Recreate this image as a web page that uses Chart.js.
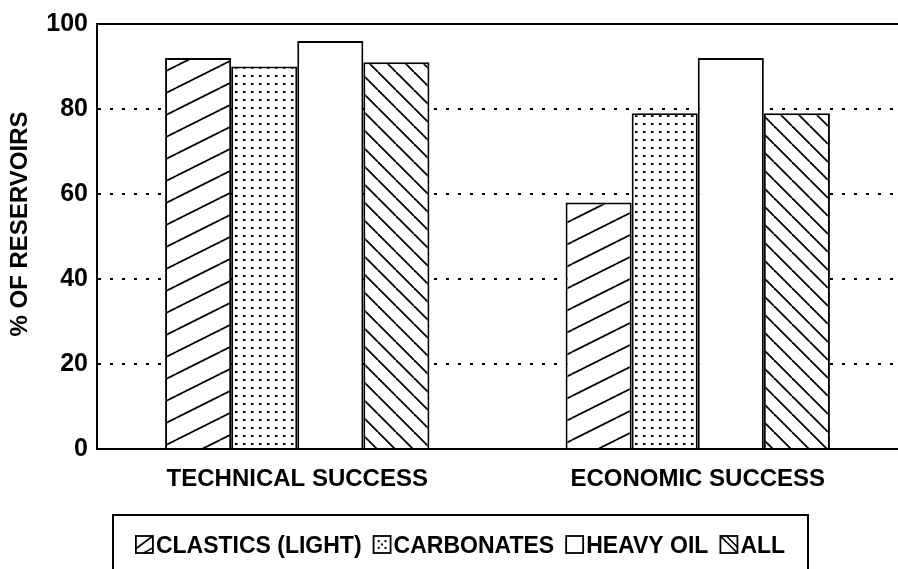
<!DOCTYPE html>
<html>
<head>
<meta charset="utf-8">
<script src="https://cdn.jsdelivr.net/npm/chart.js@4/dist/chart.umd.min.js"></script>
<style>
  html, body { margin: 0; padding: 0; background: #fff; }
  #wrap { width: 898px; height: 569px; position: relative; }
</style>
</head>
<body>
<div id="wrap"><canvas id="chart"></canvas></div>
<script>
// datos
const categories = ['TECHNICAL SUCCESS', 'ECONOMIC SUCCESS'];
const seriesNames = ['CLASTICS (LIGHT)', 'CARBONATES', 'HEAVY OIL', 'ALL'];
const clastics = [92, 58];
const carbonates = [90, 79];
const heavyOil = [96, 92];
const allRes = [91, 79];
const yTicks = [0, 20, 40, 60, 80, 100];
const yTitle = '% OF RESERVOIRS';

const FONT = '"Liberation Sans", Arial, sans-serif';

// patrones de relleno (tramas)
function makePattern(kind) {
    const c = document.createElement('canvas');
    const g = c.getContext('2d');
    if (kind === 'slash') {
        c.width = 44; c.height = 22;
        g.fillStyle = '#fff'; g.fillRect(0, 0, 44, 22);
        g.strokeStyle = '#000'; g.lineWidth = 1.8;
        [-22, 0, 22].forEach(o => {
            g.beginPath(); g.moveTo(0, 22 + o); g.lineTo(44, o); g.stroke();
        });
    } else if (kind === 'back') {
        c.width = 18; c.height = 18;
        g.fillStyle = '#fff'; g.fillRect(0, 0, 18, 18);
        g.strokeStyle = '#000'; g.lineWidth = 1.8;
        [-18, 0, 18].forEach(o => {
            g.beginPath(); g.moveTo(o, 0); g.lineTo(18 + o, 18); g.stroke();
        });
    } else if (kind === 'dots') {
        c.width = 8; c.height = 8;
        g.fillStyle = '#fff'; g.fillRect(0, 0, 8, 8);
        g.fillStyle = '#000'; g.fillRect(3, 3, 2.5, 2);
    } else {
        c.width = 4; c.height = 4;
        g.fillStyle = '#fff'; g.fillRect(0, 0, 4, 4);
    }
    return g.createPattern(c, 'repeat');
}

// muestra de leyenda: una sola diagonal como en el original
function drawSwatch(c, kind, x, y, s) {
    c.fillStyle = '#fff';
    c.fillRect(x, y, s, s);
    c.strokeStyle = '#000';
    c.lineWidth = 1.6;
    if (kind === 0) {
        c.beginPath(); c.moveTo(x, y + s * 0.75); c.lineTo(x + s, y); c.stroke();
        c.beginPath(); c.moveTo(x + s * 0.45, y + s); c.lineTo(x + s, y + s * 0.7); c.stroke();
    } else if (kind === 1) {
        c.fillStyle = '#000';
        [[0.3, 0.3], [0.7, 0.3], [0.3, 0.7], [0.7, 0.7], [0.5, 0.5]].forEach(p => {
            c.fillRect(x + s * p[0] - 1, y + s * p[1] - 1, 2, 2);
        });
    } else if (kind === 3) {
        c.beginPath(); c.moveTo(x, y); c.lineTo(x + s, y + s); c.stroke();
        c.beginPath(); c.moveTo(x + s * 0.35, y); c.lineTo(x + s, y + s * 0.65); c.stroke();
    }
    c.lineWidth = 1.8;
    c.strokeRect(x, y, s, s);
}

const ctx = document.getElementById('chart').getContext('2d');
const fills = [makePattern('slash'), makePattern('dots'), makePattern('none'), makePattern('back')];
const values = [clastics, carbonates, heavyOil, allRes];

// leyenda con recuadro + titulo del eje y, dibujados a mano
const boxLegend = {
    id: 'boxLegend',
    afterDraw(chart) {
        const c = chart.ctx;
        c.save();
        // titulo vertical
        c.save();
        c.translate(20, 224);
        c.rotate(-Math.PI / 2);
        c.font = 'bold 24px ' + FONT;
        c.fillStyle = '#000';
        c.textAlign = 'center';
        c.textBaseline = 'middle';
        c.fillText(yTitle, 0, 0);
        c.restore();

        c.font = 'bold 23px ' + FONT;
        c.textBaseline = 'alphabetic';
        const sw = 17, gapTxt = 3, gapItem = 12;
        const items = chart.data.datasets.map(ds => ({ ds, tw: c.measureText(ds.label).width }));
        items.forEach(it => { it.w = sw + gapTxt + it.tw; });
        const total = items.reduce((a, it) => a + it.w, 0) + gapItem * (items.length - 1);
        const cx = 460.5;
        let x = cx - total / 2;
        const top = 536;
        c.strokeStyle = '#000'; c.lineWidth = 2;
        c.strokeRect(113, 515, 695, 70);
        items.forEach((it, i) => {
            drawSwatch(c, i, x, top, sw);
            c.fillStyle = '#000';
            c.fillText(it.ds.label, x + sw + gapTxt, top + sw);
            x += it.w + gapItem;
        });
        c.restore();
    }
};

new Chart(ctx, {
    type: 'bar',
    data: {
        labels: categories,
        datasets: seriesNames.map((n, i) => ({
            label: n,
            data: values[i],
            backgroundColor: fills[i],
            borderColor: '#000',
            borderWidth: 2,
            borderSkipped: 'bottom',
            categoryPercentage: 0.66,
            barPercentage: 1.0
        }))
    },
    options: {
        responsive: true,
        maintainAspectRatio: false,
        animation: false,
        layout: { padding: { top: 22, right: 0, bottom: 75, left: 0 } },
        plugins: { legend: { display: false }, tooltip: { enabled: false } },
        scales: {
            x: {
                grid: { display: false },
                border: { display: true, color: '#000', width: 2 },
                ticks: { color: '#000', font: { family: FONT, size: 24, weight: 'bold' }, padding: 8, maxRotation: 0 },
                afterFit: s => { s.height = 45; }
            },
            y: {
                min: 0, max: 100,
                afterBuildTicks: s => { s.ticks = yTicks.map(v => ({ value: v })); },
                grid: {
                    color: c => (c.tick && c.tick.value === 0) ? 'rgba(0,0,0,0)' : '#000',
                    lineWidth: 2,
                    drawTicks: false
                },
                border: {
                    display: true, color: '#000', width: 2,
                    dash: c => (c.tick && c.tick.value === 100) ? [] : [3, 9]
                },
                ticks: { color: '#000', font: { family: FONT, size: 25, weight: 'bold' }, padding: 9 },
                afterFit: s => { s.width = 97; }
            }
        }
    },
    plugins: [boxLegend]
});
</script>
</body>
</html>
